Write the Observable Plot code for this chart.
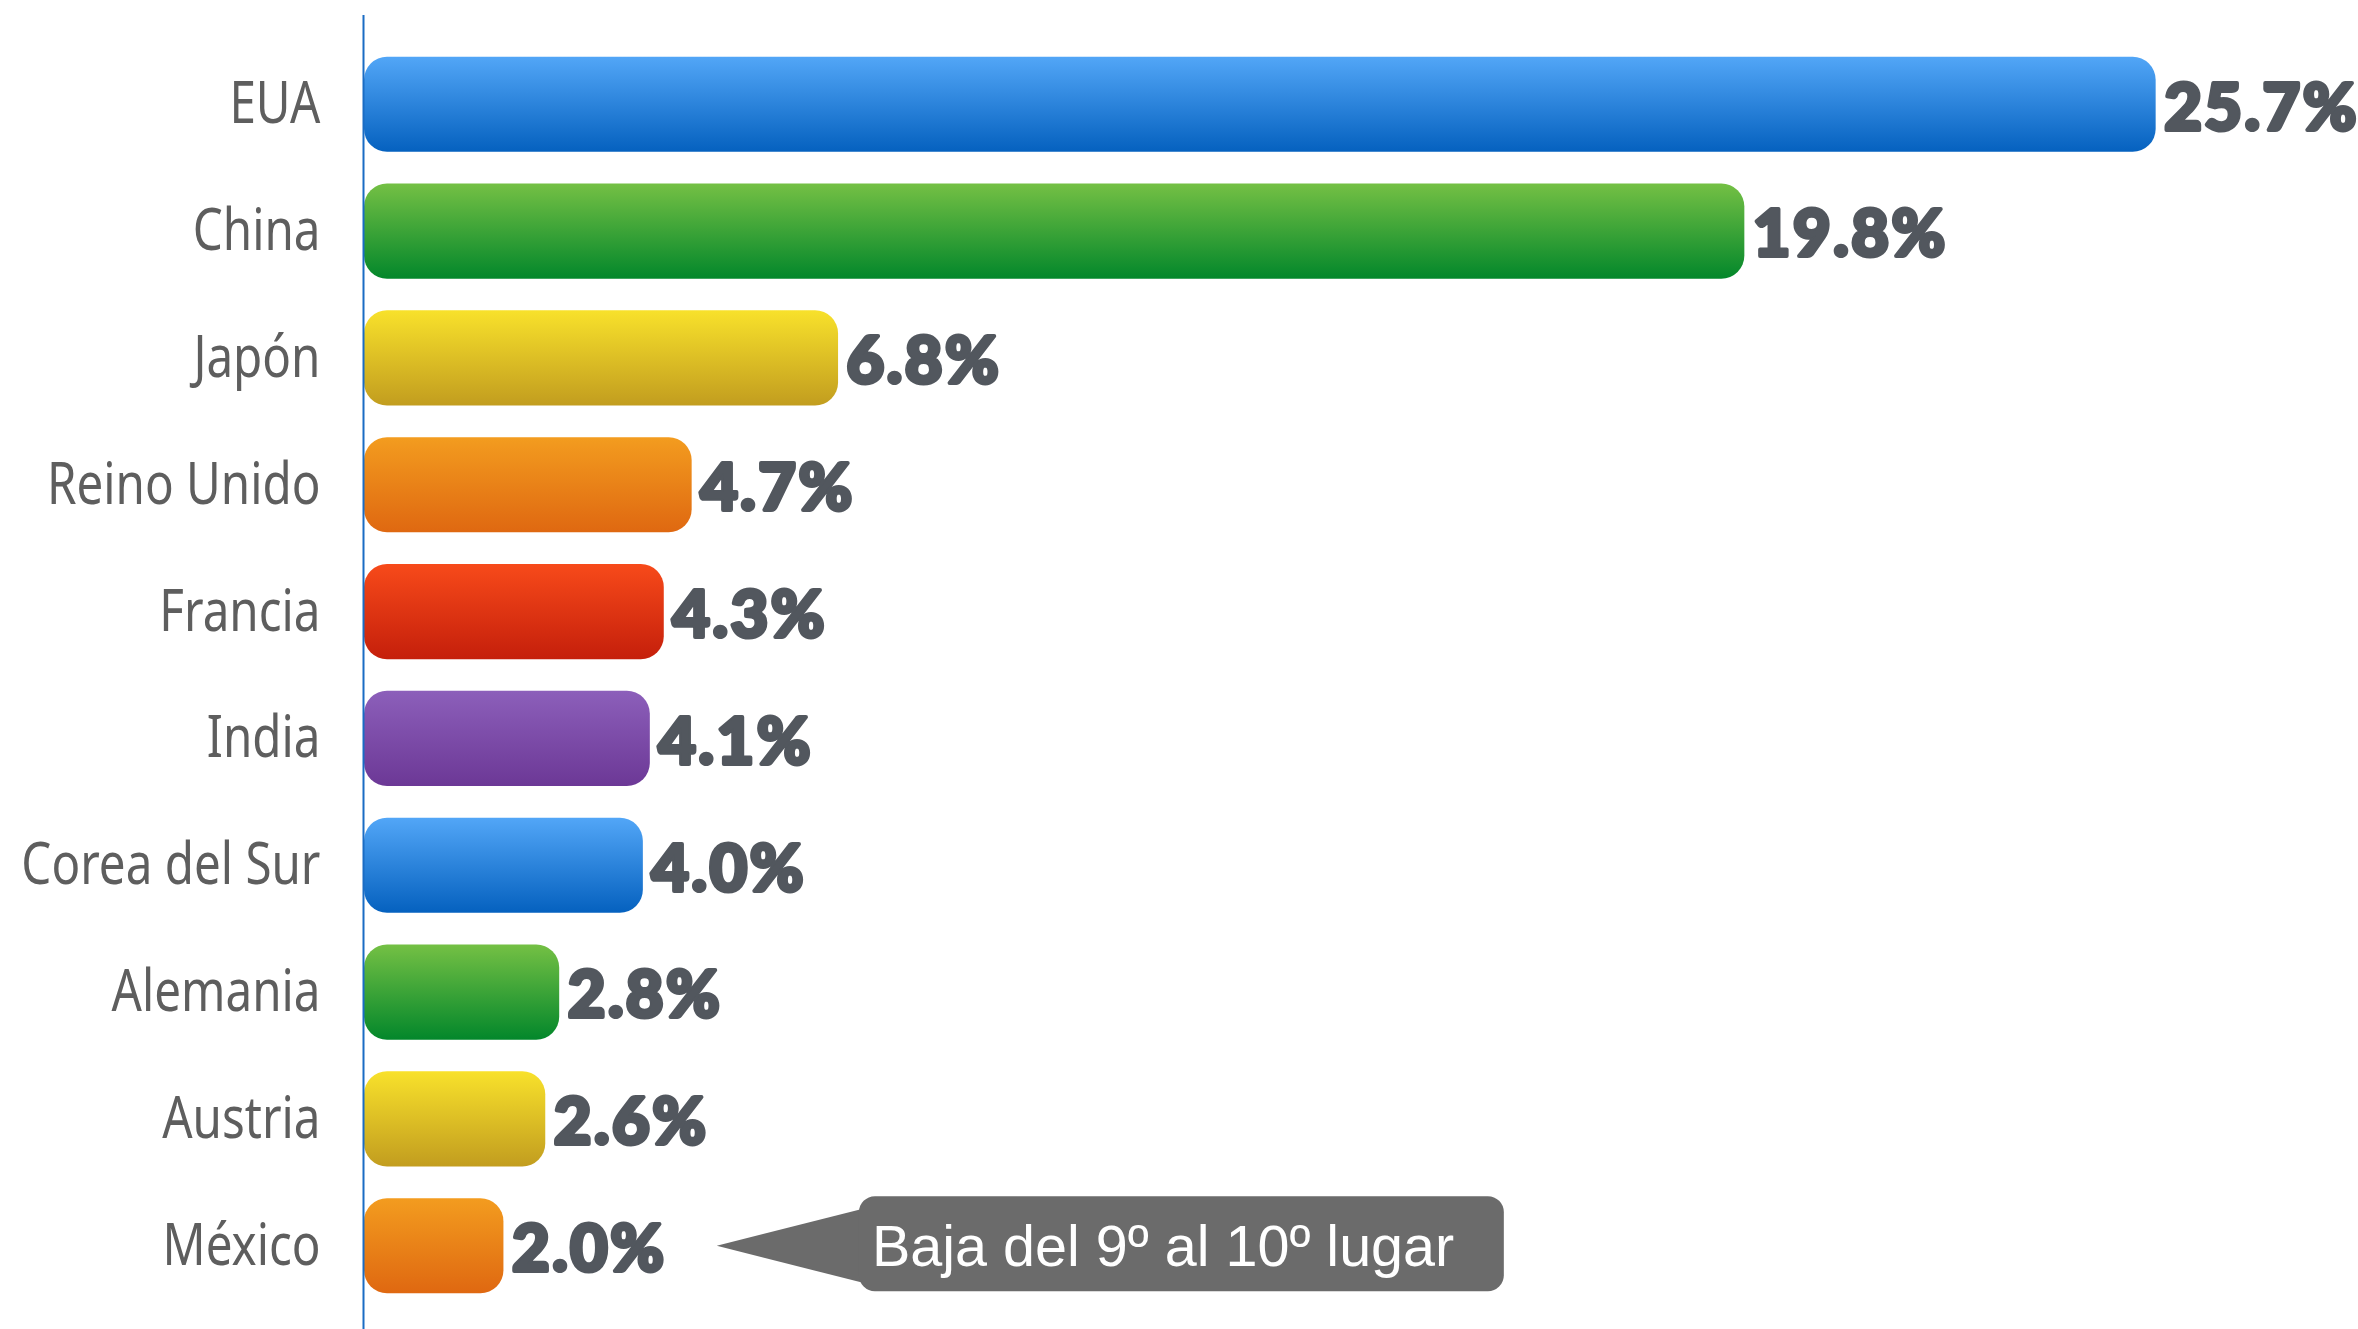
<!DOCTYPE html>
<html>
<head>
<meta charset="utf-8">
<script src="https://cdn.jsdelivr.net/npm/d3@7"></script>
<script src="https://cdn.jsdelivr.net/npm/@observablehq/plot@0.6"></script>
<style>
  html, body { margin: 0; padding: 0; background: #ffffff; overflow: hidden; }
  #chart svg { display: block; }
</style>
</head>
<body>
<div id="chart"></div>
<script>
// ---- data ----
const categories = ["EUA", "China", "Japón", "Reino Unido", "Francia", "India", "Corea del Sur", "Alemania", "Austria", "México"];
const values = [25.7, 19.8, 6.8, 4.7, 4.3, 4.1, 4.0, 2.8, 2.6, 2.0];
const colorKeys = ["azul", "verde", "amarillo", "naranja", "rojo", "morado", "azul", "verde", "amarillo", "naranja"];
const annotationCategory = "México";
const annotationText = "Baja del 9º al 10º lugar";
const annotationTipValue = 5.06;
const annotationBoxFrom = 7.1;
const annotationBoxTo = 16.35;

// ---- styles ----
const gradients = {
  azul:     ["#52a6f7", "#0561bf"],
  verde:    ["#74c044", "#03872b"],
  amarillo: ["#f8e12b", "#c29d1f"],
  naranja:  ["#f39c1f", "#df6811"],
  rojo:     ["#f74a1a", "#c51f0b"],
  morado:   ["#8c5fba", "#6c3896"]
};
const paletteKeys = Object.keys(gradients);

const rows = categories.map((c, i) => ({category: c, value: values[i], colorKey: colorKeys[i]}));

const W = 2358, H = 1329;

const plot = Plot.plot({
  width: W,
  height: H,
  marginLeft: 364,
  marginRight: 42,
  marginTop: 15,
  marginBottom: 0,
  x: {domain: [0, 28], axis: null},
  y: {domain: categories, padding: 0.25, round: false, insetTop: 10, insetBottom: 4, label: null},
  color: {type: "ordinal", domain: paletteKeys, range: paletteKeys.map(k => `url(#grad-${k})`)},
  style: {background: "#ffffff"},
  marks: [
    Plot.barX(rows, {x: "value", y: "category", fill: "colorKey", rx: 23, ry: 23}),
    Plot.ruleX([0], {stroke: "#1a6cc4", strokeWidth: 2, dx: -1}),
    Plot.axisY({
      tickSize: 0,
      tickPadding: 44,
      fontSize: 58,
      fill: "#5e5e5e",
      fontFamily: "'Noto Sans', sans-serif",
      label: null
    }),
    Plot.text(rows, {
      x: "value",
      y: "category",
      text: d => d.value.toFixed(1) + "%",
      textAnchor: "start",
      dx: 8,
      dy: 4,
      fontSize: 65,
      fontWeight: 900,
      fontFamily: "Lato, 'Noto Sans', sans-serif",
      fill: "#52575e",
      stroke: "#52575e",
      strokeWidth: 4
    })
  ]
});

// gradient definitions
const ns = "http://www.w3.org/2000/svg";
const defs = document.createElementNS(ns, "defs");
for (const k of paletteKeys) {
  const lg = document.createElementNS(ns, "linearGradient");
  lg.setAttribute("id", `grad-${k}`);
  lg.setAttribute("x1", "0"); lg.setAttribute("y1", "0");
  lg.setAttribute("x2", "0"); lg.setAttribute("y2", "1");
  const [top, bottom] = gradients[k];
  [[0, top], [1, bottom]].forEach(([o, c]) => {
    const s = document.createElementNS(ns, "stop");
    s.setAttribute("offset", o);
    s.setAttribute("stop-color", c);
    lg.appendChild(s);
  });
  defs.appendChild(lg);
}
plot.insertBefore(defs, plot.firstChild);

// condensed category labels (horizontal squeeze keeps right edge fixed)
plot.querySelectorAll("g[aria-label='y-axis tick label'] text").forEach(t => {
  const tr = t.getAttribute("transform") || "";
  t.setAttribute("transform", tr + " scale(0.82,1)");
});

// value label spacing
plot.querySelectorAll("g[aria-label='text'] text").forEach(t => {
  t.setAttribute("letter-spacing", "2.5");
  t.setAttribute("stroke-linejoin", "round");
});

// callout annotation via plot scales
const xs = plot.scale("x"), ys = plot.scale("y");
const xAt = v => xs.apply(v);
const yTop = ys.apply(annotationCategory);
const bw = ys.bandwidth;
const yc = yTop + bw / 2;
const bx0 = xAt(annotationBoxFrom), bx1 = xAt(annotationBoxTo);
const tipX = xAt(annotationTipValue);
const g = document.createElementNS(ns, "g");
const path = document.createElementNS(ns, "path");
path.setAttribute("d", `M${tipX},${yc} L${bx0 + 4},${yc - bw * 0.39} L${bx0 + 4},${yc + bw * 0.39} Z`);
path.setAttribute("fill", "#6b6b6b");
g.appendChild(path);
const rect = document.createElementNS(ns, "rect");
rect.setAttribute("x", bx0);
rect.setAttribute("y", yTop - 2);
rect.setAttribute("width", bx1 - bx0);
rect.setAttribute("height", bw);
rect.setAttribute("rx", 16);
rect.setAttribute("fill", "#6b6b6b");
g.appendChild(rect);
const txt = document.createElementNS(ns, "text");
txt.setAttribute("x", bx0 + 13);
txt.setAttribute("y", yc);
txt.setAttribute("dy", "0.35em");
txt.setAttribute("text-anchor", "start");
txt.setAttribute("fill", "#ffffff");
txt.setAttribute("font-size", 57.5);
txt.setAttribute("font-family", "'Liberation Sans', Arial, sans-serif");
txt.textContent = annotationText;
g.appendChild(txt);
plot.appendChild(g);

document.getElementById("chart").appendChild(plot);
</script>
</body>
</html>
